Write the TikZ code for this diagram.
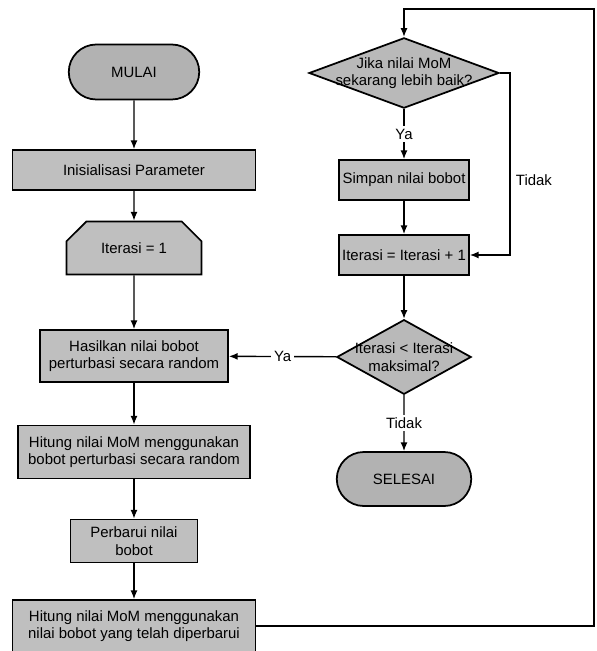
\documentclass[tikz,border=0pt]{standalone}
\usepackage{fontspec}
\setmainfont{Liberation Sans}
\usetikzlibrary{shapes.geometric,shapes.misc,arrows.meta}
\tikzset{
    every node/.style={font=\fontsize{8.5}{10}\selectfont, align=center,
    	inner sep=1pt}
}
\tikzset{
    box/.style={rectangle, draw, fill=gray!50, line width=1pt},
    term/.style={rounded rectangle, draw, fill=gray!60, line width=1pt},
    prep/.style={chamfered rectangle,
    	chamfered rectangle corners={north west, north east},
    	chamfered rectangle xsep=0.3cm, chamfered rectangle ysep=0.25cm,
    	draw, fill=gray!50, line width=1pt},
    dec/.style={diamond, draw, fill=gray!55, line width=1pt, inner sep=0pt},
    lbl/.style={fill=white, inner sep=1.5pt},
    ln/.style={line width=0.8pt, -{Latex[length=5pt,width=4pt]}}
}
\tikzset{
    every edge/.append style={line width=0.8pt, -{Latex[length=5pt,width=4pt]}}
}
% fixed-width line inside a diamond
\newcommand{\dline}[2]{\makebox[#1][c]{#2}}

\begin{document}
\begin{tikzpicture}[x=0.02cm, y=-0.02cm]
  \useasboundingbox (0,0) rectangle (597,651);
  % left column
  \node (1) [term, minimum width=2.68cm, minimum height=1.1cm] at (134,72) {MULAI};
  \node (2) [box, minimum width=4.86cm, minimum height=0.8cm] at (134,170) {Inisialisasi Parameter};
  \node (3) [prep, minimum width=2.7cm, minimum height=1.06cm] at (134,248) {Iterasi = 1};
  \node (4) [box, minimum width=3.76cm, minimum height=1.04cm] at (134,356) {Hasilkan nilai bobot\\perturbasi secara random};
  \node (5) [box, minimum width=4.64cm, minimum height=1.06cm] at (134,452) {Hitung nilai MoM menggunakan\\bobot perturbasi secara random};
  \node (6) [box, minimum width=2.54cm, minimum height=0.86cm] at (134,541) {Perbarui nilai\\bobot};
  \node (7) [box, minimum width=4.86cm, minimum height=1.04cm] at (134,626) {Hitung nilai MoM menggunakan\\nilai bobot yang telah diperbarui};
  % right column
  \node (8) [dec, aspect=2.7] at (404,73) {\dline{2.1cm}{Jika nilai MoM}\\\dline{2.1cm}{sekarang lebih baik?}};
  \node (9) [box, minimum width=2.6cm, minimum height=0.8cm] at (404,180) {Simpan nilai bobot};
  \node (10) [box, minimum width=2.6cm, minimum height=0.8cm] at (404,255) {Iterasi = Iterasi + 1};
  \node (11) [dec, aspect=1.8] at (404,357) {\dline{1.66cm}{Iterasi < Iterasi}\\\dline{1.66cm}{maksimal?}};
  \node (12) [term, minimum width=2.76cm, minimum height=1.08cm] at (404,479) {SELESAI};

  \coordinate (a) at (510,73);
  \coordinate (b) at (510,255);
  \coordinate (f) at (594,9);

  \draw (1) edge (2); \draw (2) edge (3); \draw (3) edge (4);
  \draw (4) edge (5); \draw (5) edge (6); \draw (6) edge (7);
  \draw (8) edge node[lbl] {Ya} (9); \draw (9) edge (10);
  \draw (10) edge (11); \draw (11) edge node[lbl] {Ya} (4);
  \draw (11) edge node[lbl] {Tidak} (12);
  \draw[ln] (8.east) -- (a) -- node[right, pos=0.59, xshift=2pt] {Tidak} (b) -- (10.east);
  \draw[ln] (7.east) -| (f) -| (8.north);
\end{tikzpicture}
\end{document}
